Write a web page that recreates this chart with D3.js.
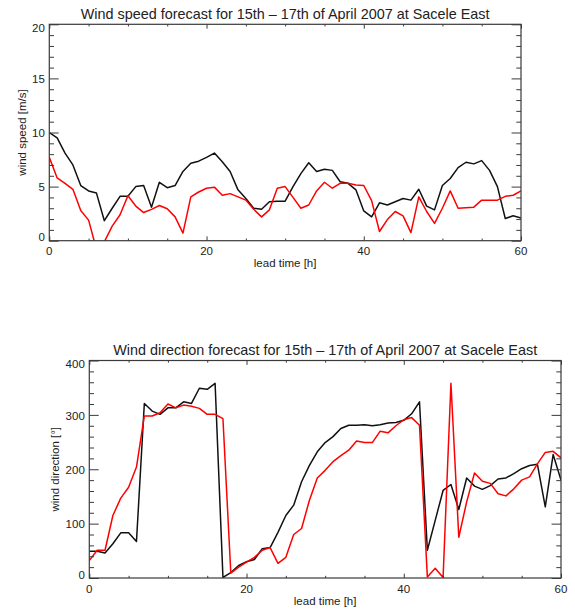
<!DOCTYPE html>
<html><head><meta charset="utf-8">
<script src="https://cdn.jsdelivr.net/npm/d3@7"></script>
<style>
html,body{margin:0;padding:0;background:#fff;}
svg{display:block;font-family:"Liberation Sans",Arial,Helvetica,sans-serif;}
</style></head>
<body>
<svg id="chart" width="575" height="610"></svg>
<script>
// ---- data ----
const leadTime = [0,1,2,3,4,5,6,7,8,9,10,11,12,13,14,15,16,17,18,19,20,21,22,23,24,25,26,27,28,29,30,31,32,33,34,35,36,37,38,39,40,41,42,43,44,45,46,47,48,49,50,51,52,53,54,55,56,57,58,59,60];
const speedBlack = [10.0,9.5,8.1,7.0,5.1,4.6,4.4,1.85,3.0,4.1,4.1,5.0,5.1,3.1,5.4,4.9,5.1,6.4,7.15,7.35,7.7,8.1,7.3,6.4,4.7,3.9,3.0,2.9,3.6,3.65,3.65,5.0,6.2,7.2,6.4,6.6,6.5,5.45,5.3,4.7,2.75,2.2,3.5,3.3,3.6,3.9,3.75,4.75,3.2,2.85,5.1,5.75,6.75,7.25,7.1,7.4,6.5,5.0,2.05,2.3,2.1];
const speedRed = [7.7,5.8,5.3,4.75,2.8,1.9,-0.8,-0.1,1.35,2.4,4.15,3.2,2.6,2.9,3.25,2.95,2.2,0.7,4.05,4.5,4.85,4.95,4.2,4.35,4.05,3.75,2.9,2.2,2.85,4.85,5.0,4.0,3.0,3.3,4.6,5.4,4.85,5.3,5.3,5.15,5.1,3.7,0.85,1.95,2.7,2.3,0.75,4.05,2.7,1.6,3.0,4.6,3.0,3.05,3.1,3.75,3.75,3.75,4.1,4.2,4.6];
const dirBlack = [49,49,46,63,83,83,67,321,307,301,313,313,324,321,349,347,358,1,10,23,30,34,54,56,84,115,134,177,207,232,249,260,275,281,281,282,280,282,285,286,290,302,324,51,106,161,172,126,184,169,163,170,182,184,192,201,207,209,131,227,180];
const dirRed = [32,51,51,115,147,167,204,298,298,304,320,313,318,316,312,301,301,293,9,20,29,38,51,56,27,38,80,91,143,184,198,214,225,235,252,249,249,270,267,280,291,295,281,2,18,1,358,75,140,193,178,174,155,151,164,180,186,210,231,233,221];
const timeTicks = [0,20,40,60];
const speedTicks = [0,5,10,15,20];
const dirTicks = [0,100,200,300,400];
const titleSpeed = "Wind speed forecast for 15th \u2013 17th of April 2007 at Sacele East";
const titleDir = "Wind direction forecast for 15th \u2013 17th of April 2007 at Sacele East";

// ---- drawing ----
const svg = d3.select("#chart");
const TEXT = "#222", AXIS = "#3a3a3a";

function panel(id, box, yDomain, yMajor, yMinorStep, xMinorStep, title, ylabel, ylabelX, series) {
  const x = d3.scaleLinear().domain([0, 60]).range([box.x0, box.x1]);
  const y = d3.scaleLinear().domain(yDomain).range([box.yb, box.yt]);
  const w = box.x1 - box.x0, h = box.yb - box.yt;
  const g = svg.append("g");

  g.append("clipPath").attr("id", id).append("rect")
    .attr("x", box.x0).attr("y", box.yt).attr("width", w).attr("height", h);

  const line = d3.line().x((d, i) => x(leadTime[i])).y(d => y(d));
  series.forEach(s => {
    g.append("path").datum(s.values).attr("d", line)
      .attr("fill", "none").attr("stroke", s.color).attr("stroke-width", 1.5)
      .attr("stroke-linejoin", "round").attr("clip-path", `url(#${id})`);
  });

  const xMinor = d3.range(0, 60.001, xMinorStep).filter(v => !timeTicks.includes(v));
  const yMinor = d3.range(yDomain[0], yDomain[1] + 0.001, yMinorStep).filter(v => !yMajor.includes(v));
  const xMaj = h * 0.02, yMaj = w * 0.02;

  function ax(gen, tr) {
    const a = g.append("g").attr("transform", tr).call(gen);
    a.select(".domain").remove();
    a.selectAll("line").attr("stroke", AXIS).attr("stroke-width", 1);
    a.selectAll("text").remove();
  }
  ax(d3.axisBottom(x).tickValues(timeTicks).tickSize(-xMaj), `translate(0,${box.yb})`);
  ax(d3.axisBottom(x).tickValues(xMinor).tickSize(-xMaj / 2), `translate(0,${box.yb})`);
  ax(d3.axisTop(x).tickValues(timeTicks).tickSize(-xMaj), `translate(0,${box.yt})`);
  ax(d3.axisTop(x).tickValues(xMinor).tickSize(-xMaj / 2), `translate(0,${box.yt})`);
  ax(d3.axisLeft(y).tickValues(yMajor).tickSize(-yMaj), `translate(${box.x0},0)`);
  ax(d3.axisLeft(y).tickValues(yMinor).tickSize(-yMaj / 2), `translate(${box.x0},0)`);
  ax(d3.axisRight(y).tickValues(yMajor).tickSize(-yMaj), `translate(${box.x1},0)`);
  ax(d3.axisRight(y).tickValues(yMinor).tickSize(-yMaj / 2), `translate(${box.x1},0)`);

  g.append("rect").attr("x", box.x0).attr("y", box.yt).attr("width", w).attr("height", h)
    .attr("fill", "none").attr("stroke", AXIS).attr("stroke-width", 1.2);

  // tick labels
  g.selectAll(".xl").data(timeTicks).enter().append("text")
    .attr("x", d => x(d)).attr("y", box.yb + 14.5).attr("text-anchor", "middle")
    .attr("font-size", 11.5).attr("fill", TEXT).text(d => d);
  g.selectAll(".yl").data(yMajor).enter().append("text")
    .attr("x", box.x0 - 4.5)
    .attr("y", d => Math.max(box.yt + 3.5, Math.min(box.yb - 3.5, y(d) + 0.5)))
    .attr("dy", "0.36em").attr("text-anchor", "end")
    .attr("font-size", 11.5).attr("fill", TEXT).text(d => d);

  // titles
  g.append("text").attr("x", (box.x0 + box.x1) / 2).attr("y", box.yt - 5.5)
    .attr("text-anchor", "middle").attr("font-size", 14.4).attr("fill", TEXT).text(title);
  g.append("text").attr("x", (box.x0 + box.x1) / 2).attr("y", box.yb + 26.5)
    .attr("text-anchor", "middle").attr("font-size", 11.5).attr("fill", TEXT).text("lead time [h]");
  g.append("text").attr("transform", `translate(${ylabelX},${(box.yt + box.yb) / 2}) rotate(-90)`)
    .attr("text-anchor", "middle").attr("font-size", 11.5).attr("fill", TEXT).text(ylabel);
}

panel("clipTop", {x0: 49.3, x1: 521, yt: 24.3, yb: 240.7}, [0, 20], speedTicks, 1, 5,
  titleSpeed, "wind speed [m/s]", 26,
  [{values: speedBlack, color: "#111"}, {values: speedRed, color: "#ff0000"}]);

panel("clipBot", {x0: 89.3, x1: 561, yt: 360.5, yb: 578}, [0, 400], dirTicks, 20, 5,
  titleDir, "wind direction [\u00b0]", 59,
  [{values: dirBlack, color: "#111"}, {values: dirRed, color: "#ff0000"}]);
</script>
</body></html>
